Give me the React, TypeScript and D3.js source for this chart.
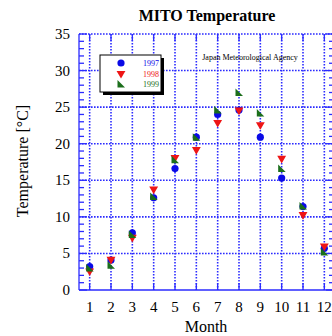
import React from 'react';
import { scaleLinear, range, symbol, symbolTriangle } from 'd3';

const months = [1, 2, 3, 4, 5, 6, 7, 8, 9, 10, 11, 12];
const yTicks = [0, 5, 10, 15, 20, 25, 30, 35];
const t1997 = [3.2, 4.1, 7.8, 12.6, 16.6, 20.9, 24.0, 24.6, 20.9, 15.3, 11.4, 5.7];
const t1998 = [2.6, 4.2, 7.2, 13.8, 18.1, 19.2, 22.9, 24.6, 22.6, 18.0, 10.3, 6.0];
const t1999 = [3.0, 3.4, 7.6, 12.8, 17.8, 20.9, 24.6, 27.0, 24.2, 16.6, 11.5, 5.2];
const years = ['1997', '1998', '1999'];

const W = 332;
const H = 336;
const left = 79;
const right = 335;
const top = 34;
const bottom = 290;
const grid = '#2b2bff';
const colors = ['#0a0ae6', '#ee1515', '#1b6e1b'];
const font = '"Liberation Serif", "Times New Roman", serif';

// green marker is a right triangle, vertical edge on the left
const flag = 'M-3.5,-4L-3.5,3.5L4,3.5Z';
const tri = symbol().type(symbolTriangle).size(34)();

function Marker({ kind, x, y }: { kind: number; x: number; y: number }) {
  if (kind === 0) return <circle cx={x} cy={y} r={3.6} fill={colors[0]} />;
  if (kind === 1)
    return <path d={tri} transform={`translate(${x},${y}) rotate(180)`} fill={colors[1]} />;
  return <path d={flag} transform={`translate(${x},${y})`} fill={colors[2]} />;
}

export default function App() {
  const x = scaleLinear().domain([0.5, 12.5]).range([left, right]);
  const y = scaleLinear().domain([0, 35]).range([bottom, top]);
  const series = [t1997, t1998, t1999];
  const minor = range(0, 36, 1);

  return (
    <svg
      width={W}
      height={H}
      style={{ position: 'absolute', left: 0, top: 0, background: '#fff' }}
      fontFamily={font}
    >
      <text x={207} y={21} textAnchor="middle" fontSize={16} fontWeight="bold">
        MITO Temperature
      </text>

      {/* dotted grid */}
      <g stroke={grid} strokeWidth={1.6} strokeDasharray="1.6,1.4">
        {yTicks.filter((d) => d > 0).map((d) => (
          <line key={'h' + d} x1={left} x2={right} y1={y(d)} y2={y(d)} />
        ))}
        {months.map((m) => (
          <line key={'v' + m} x1={x(m)} x2={x(m)} y1={top} y2={bottom} />
        ))}
      </g>

      {/* frame & ticks */}
      <g stroke={grid} strokeWidth={1.3}>
        <line x1={left} x2={left} y1={top} y2={bottom} />
        <line x1={right - 1} x2={right - 1} y1={top} y2={bottom} />
        <line x1={left} x2={right} y1={bottom} y2={bottom} />
        {minor.map((d) => (
          <g key={'t' + d}>
            <line x1={left} x2={left + (d % 5 === 0 ? 8 : 5)} y1={y(d)} y2={y(d)} />
            <line x1={right - 1} x2={right - 1 - (d % 5 === 0 ? 8 : 5)} y1={y(d)} y2={y(d)} />
          </g>
        ))}
        {months.map((m) => (
          <g key={'m' + m}>
            <line x1={x(m)} x2={x(m)} y1={bottom} y2={bottom - 7} />
            <line x1={x(m)} x2={x(m)} y1={top} y2={top + 7} />
          </g>
        ))}
      </g>

      {/* tick labels */}
      {yTicks.map((d) => (
        <text key={'yl' + d} x={70} y={y(d) + 5} textAnchor="end" fontSize={15}>
          {d}
        </text>
      ))}
      {months.map((m) => (
        <text key={'xl' + m} x={x(m)} y={312} textAnchor="middle" fontSize={15}>
          {m}
        </text>
      ))}
      <text x={206} y={332} textAnchor="middle" fontSize={16}>
        Month
      </text>
      <text
        transform={`translate(28,${161}) rotate(-90)`}
        textAnchor="middle"
        fontSize={16}
      >
        Temperature [°C]
      </text>

      <text x={250} y={60} textAnchor="middle" fontSize={8}>
        Japan Meteorological Agency
      </text>

      {/* data */}
      {series.map((s, k) =>
        s.map((v, i) => <Marker key={k + '-' + i} kind={k} x={x(months[i])} y={y(v)} />)
      )}

      {/* legend */}
      <rect x={103} y={58} width={61} height={37} fill="#000" />
      <rect x={100} y={55} width={61} height={37} fill="#fff" stroke="#000" strokeWidth={1} />
      {years.map((yr, k) => (
        <g key={yr}>
          <Marker kind={k} x={121} y={63 + k * 10.5} />
          <text x={143} y={66 + k * 10.5} fontSize={8} fill={colors[k]}>
            {yr}
          </text>
        </g>
      ))}
    </svg>
  );
}
